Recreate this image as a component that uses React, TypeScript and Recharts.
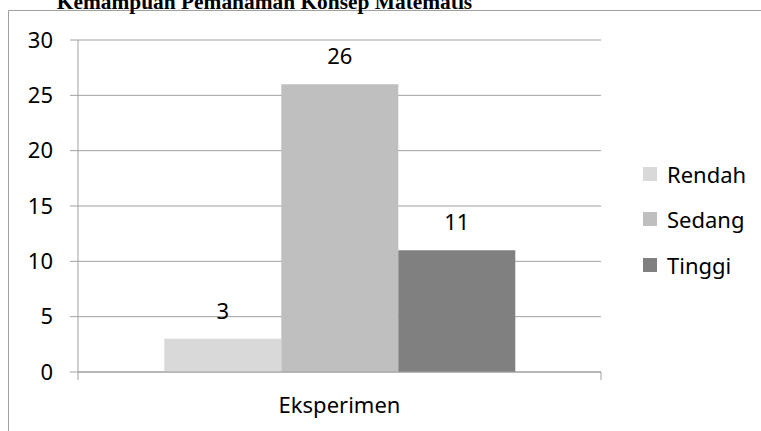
import React from 'react';
import * as R from 'recharts';
import { BarChart, Bar, XAxis, YAxis, CartesianGrid, Legend, LabelList, Customized } from 'recharts';

const categories = ['Eksperimen'];
const rendah = [3];
const sedang = [26];
const tinggi = [11];
const yTicks = [0, 5, 10, 15, 20, 25, 30];
const title = 'Kemampuan Pemahaman Konsep Matematis';

const seriesNames = ['Rendah', 'Sedang', 'Tinggi'];
const colors = ['#d9d9d9', '#bfbfbf', '#808080'];

const data = categories.map((c, i) => ({
  name: c,
  Rendah: rendah[i],
  Sedang: sedang[i],
  Tinggi: tinggi[i],
}));

const FONT = '"Noto Sans", sans-serif';
const GRID = '#a0a0a0';

function Decor() {
  const anyR: any = R;
  const hook = anyR.usePlotArea || anyR.useOffset;
  const area = hook ? hook() : null;
  let ticks: React.ReactNode = null;
  if (area) {
    const left = area.x !== undefined ? area.x : area.left;
    const top = area.y !== undefined ? area.y : area.top;
    const w = area.width;
    const h = area.height;
    const bottom = top + h;
    const n = categories.length;
    const lines = [];
    for (let i = 0; i <= n; i++) {
      const x = left + (w * i) / n;
      lines.push(<line key={i} x1={x} x2={x} y1={bottom} y2={bottom + 8} stroke={GRID} strokeWidth={1} />);
    }
    ticks = <g>{lines}</g>;
  }
  return (
    <g>
      {ticks}
      <line x1={8.5} x2={761} y1={10.5} y2={10.5} stroke={GRID} strokeWidth={1} />
      <line x1={8.5} x2={8.5} y1={10.5} y2={431} stroke={GRID} strokeWidth={1} />
      <text x={264.5} y={9} textAnchor="middle" fontFamily='"Liberation Serif", serif' fontWeight="bold" fontSize={21.4} fill="#000">
        {title}
      </text>
    </g>
  );
}

const XTick = (props: any) => {
  const { x, y, payload } = props;
  return (
    <text x={x} y={y + 33} textAnchor="middle" fontFamily={FONT} fontSize={22} fill="#000">
      {payload.value}
    </text>
  );
};

const LegendContent = (props: any) => {
  const payload = props.payload || [];
  return (
    <div style={{ fontFamily: FONT, fontSize: 22, color: '#000' }}>
      {payload.map((p: any) => (
        <div key={p.value} style={{ height: 45.5, display: 'flex', alignItems: 'center' }}>
          <span style={{ display: 'inline-block', width: 14, height: 14, background: p.color, marginRight: 10 }} />
          <span style={{ lineHeight: 1 }}>{p.value}</span>
        </div>
      ))}
    </div>
  );
};

export default function App() {
  return (
    <div style={{ position: 'absolute', left: 0, top: 0, width: 761, height: 431, background: '#fff' }}>
      <BarChart
        width={761}
        height={431}
        data={data}
        margin={{ top: 40, right: 42, bottom: 0, left: 0 }}
        barCategoryGap="16.5%"
        barGap={0}
      >
        <CartesianGrid vertical={false} stroke={GRID} strokeDasharray="" />
        <XAxis
          dataKey="name"
          height={59}
          tickLine={false}
          axisLine={{ stroke: GRID }}
          tick={<XTick />}
          interval={0}
        />
        <YAxis
          width={78}
          domain={[0, 30]}
          ticks={yTicks}
          interval={0}
          tickSize={8}
          tickMargin={17}
          axisLine={{ stroke: GRID }}
          tickLine={{ stroke: GRID }}
          tick={{ fontFamily: FONT, fontSize: 22, fill: '#000' }}
        />
        <Legend
          layout="vertical"
          align="right"
          verticalAlign="top"
          content={<LegendContent />}
          wrapperStyle={{ left: 643, top: 151, width: 118 }}
        />
        {seriesNames.map((s, i) => (
          <Bar key={s} dataKey={s} fill={colors[i]} isAnimationActive={false}>
            <LabelList dataKey={s} position="top" offset={20} fontFamily={FONT} fontSize={22} fill="#000" />
          </Bar>
        ))}
        <Customized component={<Decor />} />
      </BarChart>
    </div>
  );
}
